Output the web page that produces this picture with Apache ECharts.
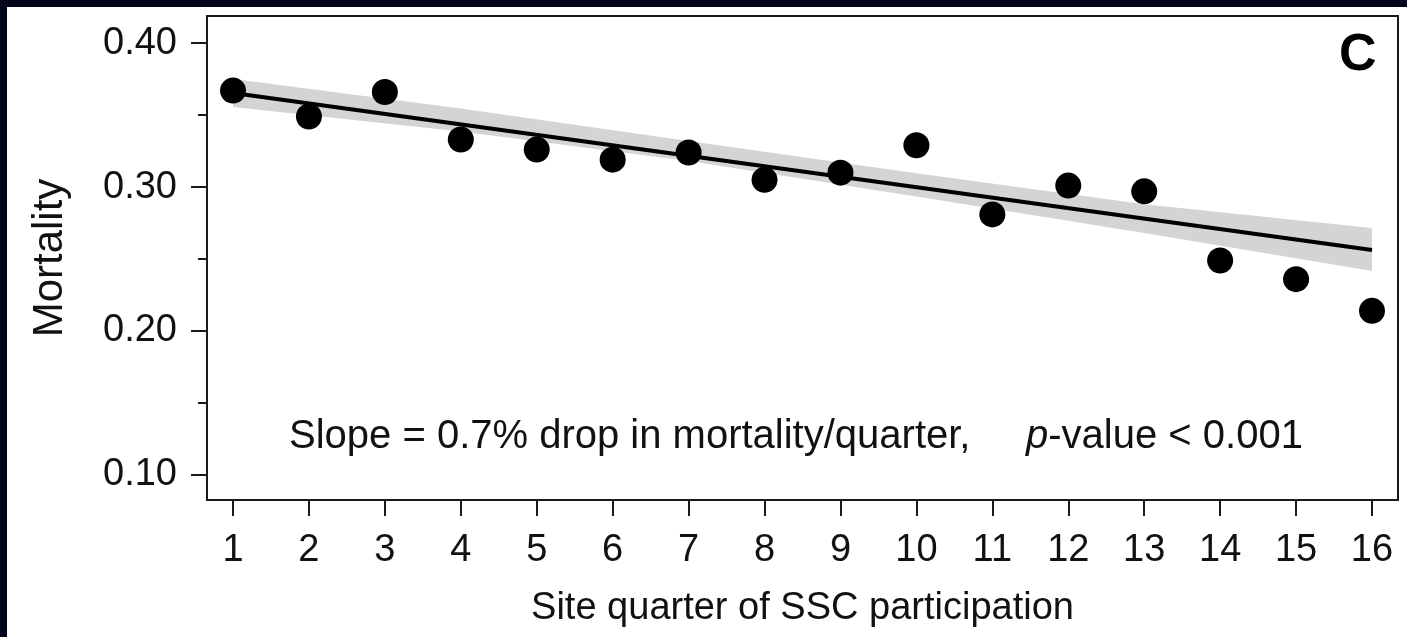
<!DOCTYPE html>
<html>
<head>
<meta charset="utf-8">
<script src="https://cdn.jsdelivr.net/npm/echarts@6/dist/echarts.min.js"></script>
<style>
  html, body { margin: 0; padding: 0; background: #ffffff; overflow: hidden; }
  #chart { position: absolute; left: 0; top: 0; width: 1407px; height: 637px; background: #ffffff; }
  .edge { position: absolute; background: #04061a; z-index: 5; }
  #edgeTop { left: 0; top: 0; width: 1407px; height: 7px; }
  #edgeLeft { left: 0; top: 0; width: 7px; height: 637px; }
</style>
</head>
<body>
<div id="chart"></div>
<div class="edge" id="edgeTop"></div>
<div class="edge" id="edgeLeft"></div>
<script>
// Quarter of SSC participation (x) and observed mortality rate per quarter
const quarters = [1, 2, 3, 4, 5, 6, 7, 8, 9, 10, 11, 12, 13, 14, 15, 16];
const mortality = [0.367, 0.349, 0.366, 0.333, 0.326, 0.319, 0.324, 0.305,
                   0.310, 0.329, 0.281, 0.301, 0.297, 0.249, 0.236, 0.214];

// Fitted regression line (value at first and last quarter)
const fitX = [1, 16];
const fitY = [0.3653, 0.2563];

// Confidence band around the fit
const bandX     = [1,      4,      7,      10,     13,     16];
const bandLower = [0.3556, 0.3385, 0.3180, 0.2935, 0.2680, 0.2417];
const bandUpper = [0.3750, 0.3545, 0.3320, 0.3095, 0.2880, 0.2715];

// Axis tick values
const yMajorTicks = [0.10, 0.20, 0.30, 0.40];
const yMinorTicks = [0.15, 0.25, 0.35];

const annotationText = 'Slope = 0.7% drop in mortality/quarter,';
const pValueText = '-value < 0.001';
const panelLetter = 'C';

const FONT = '"Liberation Sans", Arial, sans-serif';
const INK = '#111111';

const chart = echarts.init(document.getElementById('chart'), null, { renderer: 'canvas' });

const yMin = 0.0826, yMax = 0.4188;
const xMin = 0.6576, xMax = 16.3424;

const option = {
  backgroundColor: '#ffffff',
  animation: false,
  grid: {
    left: 207, top: 16, right: 9, bottom: 137,
    show: true, borderColor: '#1a1a1a', borderWidth: 2, backgroundColor: 'transparent'
  },
  xAxis: {
    type: 'value', min: xMin, max: xMax,
    name: 'Site quarter of SSC participation',
    nameLocation: 'middle', nameGap: 90,
    nameTextStyle: { fontFamily: FONT, fontSize: 38, color: INK },
    axisLine: { show: true, lineStyle: { color: '#1a1a1a', width: 2 } },
    axisTick: { show: true, inside: false, length: 16, customValues: quarters,
                lineStyle: { color: '#1a1a1a', width: 2 } },
    axisLabel: { customValues: quarters, margin: 32, fontFamily: FONT, fontSize: 38, color: INK },
    splitLine: { show: false }
  },
  yAxis: [{
    type: 'value', min: yMin, max: yMax,
    name: 'Mortality',
    nameLocation: 'middle', nameGap: 136, nameRotate: 90,
    nameTextStyle: { fontFamily: FONT, fontSize: 42, color: INK },
    axisLine: { show: true, lineStyle: { color: '#1a1a1a', width: 2 } },
    axisTick: { show: true, inside: false, length: 16, customValues: yMajorTicks,
                lineStyle: { color: '#1a1a1a', width: 2 } },
    axisLabel: { customValues: yMajorTicks, margin: 30, fontFamily: FONT, fontSize: 38, color: INK,
                 formatter: v => v.toFixed(2) },
    splitLine: { show: false }
  }, {
    type: 'value', min: yMin, max: yMax, position: 'left',
    axisLine: { show: false },
    axisTick: { show: true, inside: false, length: 9, customValues: yMinorTicks,
                lineStyle: { color: '#1a1a1a', width: 2 } },
    axisLabel: { show: false },
    splitLine: { show: false }
  }],
  series: [
    {
      // confidence band drawn as one polygon through the axis scales
      type: 'custom',
      data: [0],
      z: 1,
      silent: true,
      renderItem: function (params, api) {
        const pts = [];
        for (let i = 0; i < bandX.length; i++) pts.push(api.coord([bandX[i], bandUpper[i]]));
        for (let i = bandX.length - 1; i >= 0; i--) pts.push(api.coord([bandX[i], bandLower[i]]));
        return { type: 'polygon', shape: { points: pts }, style: { fill: '#d4d4d4' } };
      }
    },
    {
      type: 'line',
      data: fitX.map((x, i) => [x, fitY[i]]),
      symbol: 'none',
      z: 2,
      lineStyle: { color: '#000000', width: 4 }
    },
    {
      type: 'scatter',
      data: quarters.map((q, i) => [q, mortality[i]]),
      symbol: 'circle',
      symbolSize: 26,
      z: 3,
      itemStyle: { color: '#000000', opacity: 1 }
    }
  ],
  graphic: [
    {
      type: 'text', left: 289, top: 417,
      style: {
        text: annotationText + '     {it|p}' + pValueText,
        fontFamily: FONT, fontSize: 40, fill: INK,
        rich: { it: { fontFamily: FONT, fontSize: 40, fontStyle: 'italic', fill: INK } }
      }
    },
    {
      type: 'text', left: 1339, top: 30,
      style: { text: panelLetter, fontFamily: FONT, fontSize: 52, fontWeight: 'bold', fill: '#000000' }
    }
  ]
};

chart.setOption(option);
</script>
</body>
</html>
